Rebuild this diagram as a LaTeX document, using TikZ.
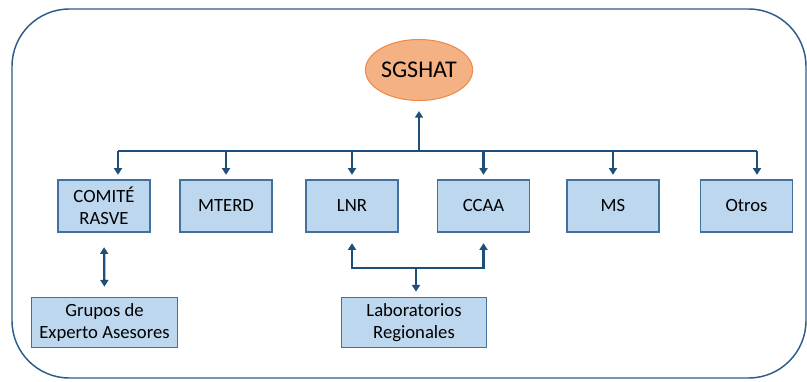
\documentclass[tikz,border=0pt]{standalone}
\usepackage{fontspec}
\setmainfont{Carlito}
\usetikzlibrary{arrows.meta,shapes.geometric}
\definecolor{boxfill}{HTML}{BDD7EE}
\definecolor{boxline}{HTML}{41719C}
\definecolor{arrcol}{HTML}{1F4E79}
\definecolor{ellfill}{HTML}{F4B183}
\definecolor{ellline}{HTML}{F08A4B}
\definecolor{framecol}{HTML}{2E5C8A}
\begin{document}
\begin{tikzpicture}[x=0.75pt,y=-0.75pt,
  box/.style={draw=boxline, fill=boxfill, line width=0.8pt, minimum width=69pt, minimum height=39pt, align=center, inner sep=0pt, font=\fontsize{14}{16.5}\selectfont},
  widebox/.style={box, minimum width=109pt, minimum height=38pt},
  conn/.style={draw=arrcol, line width=1.7pt},
  arr/.style={conn, -{Triangle[width=6pt,length=5pt]}},
  dblarr/.style={conn, {Triangle[width=6pt,length=5pt]}-{Triangle[width=6pt,length=5pt]}}]
\useasboundingbox (0,0) rectangle (807,382);
\draw[framecol, line width=1.1pt, rounded corners=43pt] (12,9) rectangle (806,378);
\node[ellipse, draw=ellline, fill=ellfill, line width=0.8pt, minimum width=78.75pt, minimum height=45.75pt, inner sep=0pt, font=\fontsize{18}{20}\selectfont] (sg) at (419,70) {SGSHAT};
\node[box] (comite) at (104,206) {COMITÉ\\RASVE};
\node[box] (mterd) at (226,206) {MTERD};
\node[box] (lnr) at (352,206) {LNR};
\node[box] (ccaa) at (483.5,206) {CCAA};
\node[box] (ms) at (613,206) {MS};
\node[box] (otros) at (746.5,206) {Otros};
\node[widebox] (grupos) at (104.5,322.5) {Grupos de\\Experto Asesores};
\node[widebox] (lab) at (414,322.5) {Laboratorios\\Regionales};
\coordinate (busL) at (118,151);
\coordinate (busM) at (419,151);
\coordinate (busR) at (757,151);
\coordinate (brk) at (416,268);
\draw[conn] (busL) -- (busR);
\draw[arr, shorten >=7.5pt] (busM) -- (sg.south);
\draw[arr, shorten >=3.5pt] (busL) -- (busL |- comite.north);
\draw[arr, shorten >=3.5pt] (mterd.north |- busM) -- (mterd.north);
\draw[arr, shorten >=3.5pt] (lnr.north |- busM) -- (lnr.north);
\draw[arr, shorten >=3.5pt] (ccaa.north |- busM) -- (ccaa.north);
\draw[arr, shorten >=3.5pt] (ms.north |- busM) -- (ms.north);
\draw[arr, shorten >=3.5pt] (busR) -- (busR |- otros.north);
\draw[dblarr, shorten <=11pt, shorten >=7.5pt] (comite.south) -- (grupos.north);
\draw[dblarr, shorten <=8pt, shorten >=8pt] (lnr.south) |- (brk) -| (ccaa.south);
\draw[arr, shorten >=3.75pt] (brk) -- (brk |- lab.north);
\end{tikzpicture}
\end{document}
